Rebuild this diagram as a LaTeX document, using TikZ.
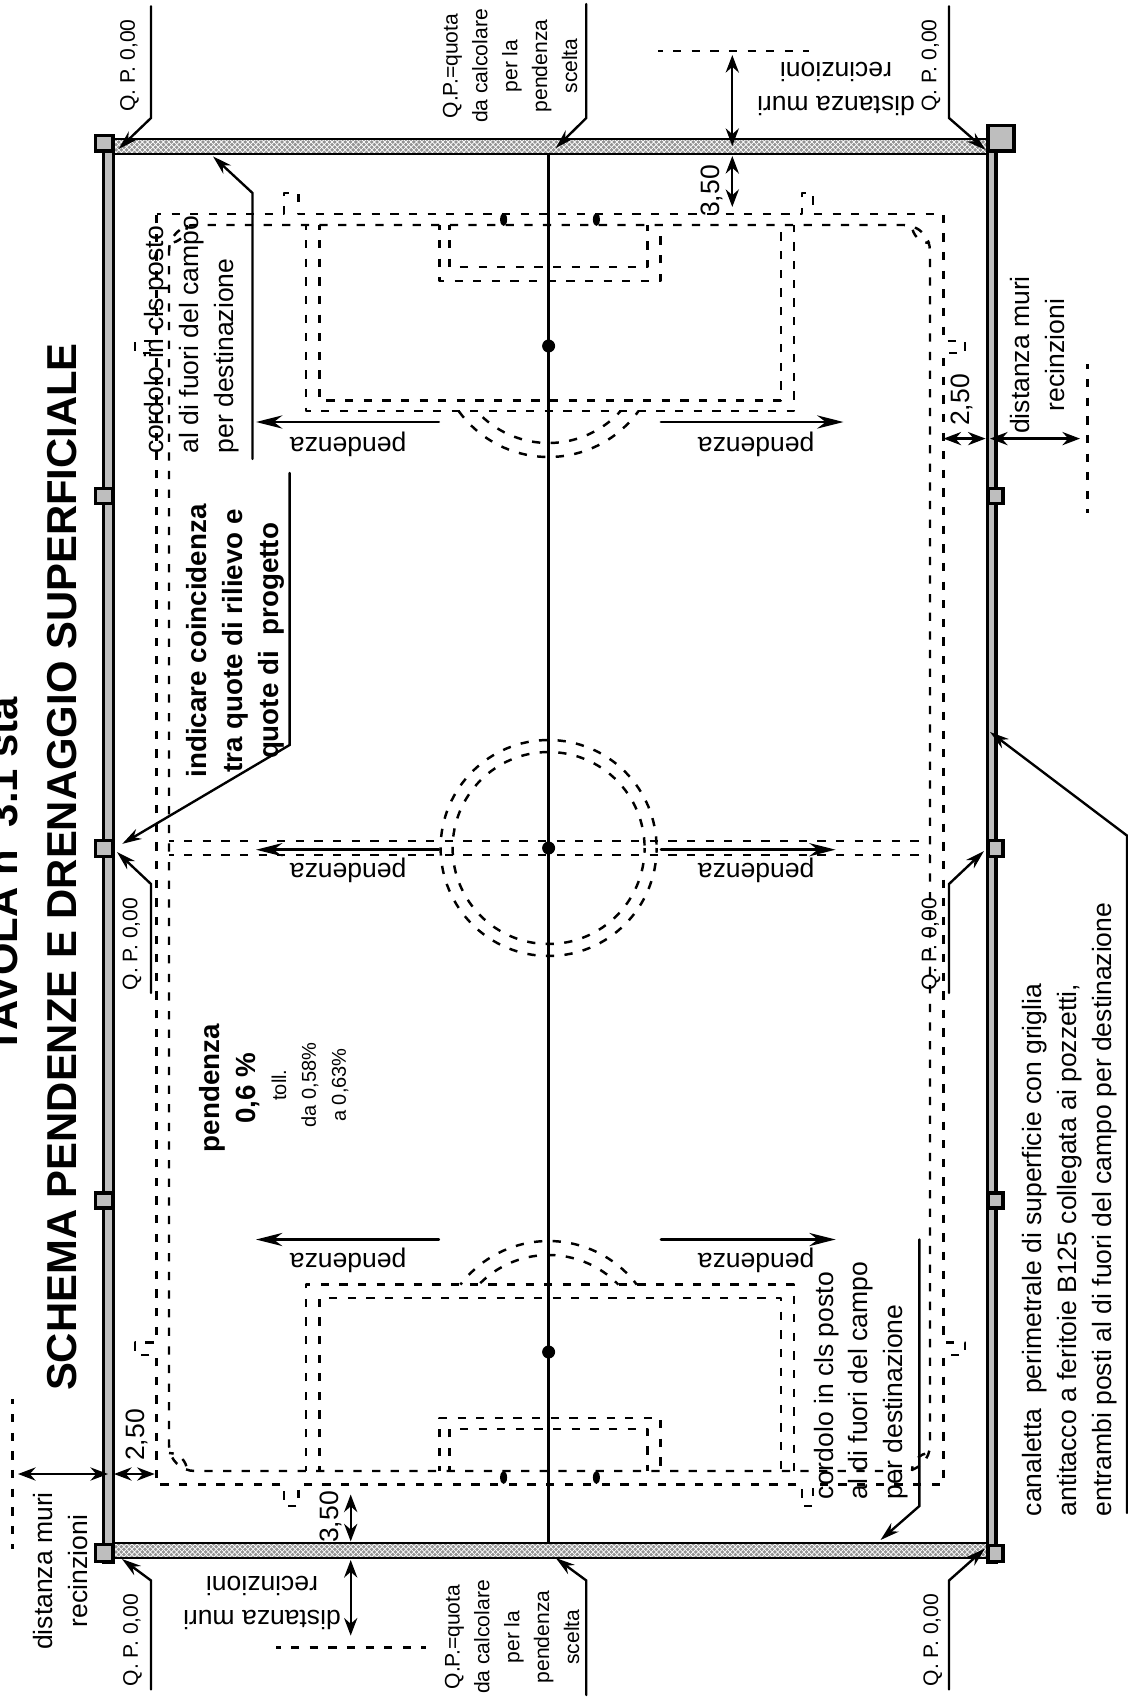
\documentclass[tikz,border=0pt]{standalone}
\usepackage{fontspec}
\setmainfont{Liberation Sans}
\usetikzlibrary{arrows.meta, patterns}
\definecolor{wallgray}{HTML}{BEBEBE}
\tikzset{
  wall/.style={draw, line width=1.9pt, line join=miter, fill=wallgray},
  field/.style={line width=1.4pt, dash pattern=on 4.7pt off 5.9pt, dash phase=2pt, line cap=butt},
  leader/.style={line width=1.35pt, line join=miter, -{Stealth[length=11pt, width=6.5pt]}},
  slope/.style={line width=1.6pt, -{Stealth[length=15pt, width=7.5pt]}},
  dim/.style={line width=1.35pt, {Stealth[length=10pt, width=7.5pt]}-{Stealth[length=10pt, width=7.5pt]}},
  lab/.style={inner sep=0pt, font=\fontsize{15.1}{19.8}\selectfont},
  boldlab/.style={inner sep=0pt, font=\fontsize{15.8}{20.4}\selectfont\bfseries},
  quota/.style={inner sep=0pt, font=\fontsize{12}{17}\selectfont},
  tolerance/.style={inner sep=0pt, font=\fontsize{11.4}{17}\selectfont},
  bigtitle/.style={inner sep=0pt, anchor=base, rotate=90, font=\fontsize{23.8}{28}\selectfont\bfseries},
}
\begin{document}
\begin{tikzpicture}[x=0.02cm, y=-0.02cm, line cap=round, line join=round]
\useasboundingbox (0,0) rectangle (1128,1697);

% walls and grated channels
\foreach \ytop/\ybot in {139/154, 1543/1558} {
  \fill [wallgray!78!black] (112,\ytop) rectangle (987,\ybot);
  \fill [pattern=crosshatch, pattern color=white] (112,\ytop) rectangle (987,\ybot);
  \draw [line width=1.6pt] (112,\ytop) -- (987,\ytop) (112,\ybot) -- (987,\ybot);
}
\draw [wall] (103.6,136) rectangle (113.4,1562);
\draw [wall] (987.2,136) rectangle (996,1562);
\foreach \ya/\yb in {135.6/151, 488.5/503.5, 840.5/856.5, 1193/1208, 1544.5/1561.5} {
  \draw [wall] (95.6,\ya) rectangle (112.4,\yb);
}
\foreach \ya/\yb in {488.5/503.5, 840.5/856.5, 1193/1208, 1545.5/1561.5} {
  \draw [wall] (988,\ya) rectangle (1003,\yb);
}
\draw [wall] (988,125.5) rectangle (1014,151);

% pitch
\draw [field] (156.5,214) -- (284,214) -- (284,193) -- (298.6,193) -- (298.6,214)
  -- (802,214) -- (802,193) -- (813,193) -- (813,214) -- (943.5,214)
  -- (943.5,341) -- (965,341) -- (965,353) -- (943.5,353) -- (943.5,1342.5)
  -- (965,1342.5) -- (965,1355) -- (943.5,1355) -- (943.5,1484.6)
  -- (813,1484.6) -- (813,1506) -- (802,1506) -- (802,1484.6)
  -- (298.6,1484.6) -- (298.6,1506) -- (284,1506) -- (284,1484.6)
  -- (156.5,1484.6) -- (156.5,1355) -- (135,1355) -- (135,1342.5) -- (156.5,1342.5)
  -- (156.5,353) -- (135,353) -- (135,341) -- (156.5,341) -- cycle;
\draw [field, rounded corners=0.52cm] (169,225) rectangle (930,1471);
\foreach \cx/\cy/\a in {169/225/0, 930/225/90, 930/1471/180, 169/1471/270}
  \draw [field] (\cx,\cy) ++(\a:18) arc [start angle=\a, end angle=\a+90, radius=18];

\draw [field] (169,841) -- (930,841) (169,855) -- (930,855);
\draw [field] (548.6,848) circle [radius=108];
\draw [field] (548.6,848) circle [radius=96];

\foreach \ya/\yb/\yc/\yd/\ye/\yf in {225/411/400.7/281/267/346, 1471/1284.6/1298/1418/1429/1352} {
  \draw [field] (305.8,\ya) -- (305.8,\yb) -- (794,\yb) -- (794,\ya);
  \draw [field] (319.4,\ya) -- (319.4,\yc) -- (781,\yc) -- (781,\ya);
  \draw [field] (439.6,\ya) -- (439.6,\yd) -- (660.4,\yd) -- (660.4,\ya);
  \draw [field] (449.6,\ya) -- (449.6,\ye) -- (647.5,\ye) -- (647.5,\ya);
  \fill (548.6,\yf) circle [radius=6.5];
}
\draw [field] (548.6,346) ++(35.8:111) arc [start angle=35.8, end angle=144.2, radius=111];
\draw [field] (548.6,346) ++(42:97) arc [start angle=42, end angle=138, radius=97];
\draw [field] (548.6,1352) ++(-37.4:111) arc [start angle=-37.4, end angle=-142.6, radius=111];
\draw [field] (548.6,1352) ++(-44:97) arc [start angle=-44, end angle=-136, radius=97];
\foreach \x/\y in {503.6/219.5, 596.4/219.5, 503.6/1477.5, 596.4/1477.5}
  \fill (\x,\y) ellipse [x radius=3.5, y radius=6.5];
\fill (548.6,848) circle [radius=6.5];
\draw [line width=1.3pt] (548.6,154) -- (548.6,1543);

% slope arrows
\foreach \ya/\yl/\xr/\i in {422/444.6/843.5/a, 849.7/870.8/835.6/b, 1239.5/1260/835.6/c} {
  \draw [slope] (438.8,\ya) -- (256,\ya);
  \draw [slope] (661,\ya) -- (\xr,\ya);
  \node (pendl\i) [lab, rotate=180] at (348,\yl) {pendenza};
  \node (pendr\i) [lab, rotate=180] at (756,\yl) {pendenza};
}

% level leaders
\draw [leader] (151,6.4) -- (151,118) -- (118.7,149);
\draw [leader] (586.3,4) -- (586.3,118) -- (555.8,148);
\draw [leader] (949,6.4) -- (949,118) -- (985.6,150);
\draw [leader] (151,993) -- (151,884) -- (117,852);
\draw [leader] (949,993) -- (949,884) -- (984,851);
\draw [leader] (151,1689.5) -- (151,1580.5) -- (122,1559);
\draw [leader] (586.3,1695) -- (586.3,1580.5) -- (555.8,1558);
\draw [leader] (949,1689.5) -- (949,1580.5) -- (985,1548.5);
\foreach \x/\y/\i in {129.5/65.5/a, 931/65.5/b, 132/944/c, 931/944/d, 132.4/1640/e, 932.7/1640/f}
  \node (qp\i) [quota, rotate=90] at (\x,\y) {Q. P. 0,00};
\node (qptop) [quota, rotate=90, align=center] at (510,66) {Q.P.=quota\\da calcolare\\per la\\pendenza\\scelta};
\node (qpbot) [quota, rotate=90, align=center] at (512,1637) {Q.P.=quota\\da calcolare\\per la\\pendenza\\scelta};

% note leaders
\draw [leader] (252.5,459) -- (252.5,193) -- (213,156.4);
\draw [leader] (919.4,1239.5) -- (919.4,1506) -- (880.5,1540);
\draw [leader] (289.6,473) -- (289.6,745) -- (122.3,843.8);
\draw [leader] (1127,1513) -- (1127,835.6) -- (990,732);
\node (notea) [lab, rotate=90, align=left, anchor=west] at (191.8,453.6)
  {cordolo in cls posto\\al di fuori del campo\\per destinazione};
\node (noteb) [lab, rotate=90, align=left, anchor=west] at (861,1499.5)
  {cordolo in cls posto\\al di fuori del campo\\per destinazione};
\node (coincid) [boldlab, rotate=90, align=center] at (235.5,641)
  {indicare coincidenza\\tra quote di rilievo e\\quote di\ \ progetto};
\node (channel) [lab, rotate=90, align=left, anchor=west] at (1069.4,1516.5)
  {canaletta\ \ perimetrale di superficie con griglia\\antitacco a feritoie B125 collegata ai pozzetti,\\entrambi posti al di fuori del campo per destinazione};

% slope value
\node (pvalue) [boldlab, rotate=90, align=center] at (230,1088) {pendenza\\0,6 \%};
\node (ptoll) [tolerance, rotate=90, align=center] at (310,1085) {toll.\\da 0,58\%\\a 0,63\%};

% dimensions
\draw [field] (658,51) -- (808.6,51);
\draw [dim] (732.3,55) -- (732.3,146);
\draw [dim] (732.3,156) -- (732.3,207);
\node (dimtopa) [lab, rotate=90] at (711.5,191) {3,50};
\node (dimtopb) [lab, rotate=180, align=center] at (836,89) {distanza muri\\recinzioni};

\draw [field] (276,1647.3) -- (426,1647.3);
\draw [dim] (350.7,1494.5) -- (350.7,1541.4);
\draw [dim] (350.7,1560) -- (350.7,1635.6);
\node (dimbota) [lab, rotate=90] at (331,1517) {3,50};
\node (dimbotb) [lab, rotate=180, align=center] at (262,1603) {distanza muri\\recinzioni};

\draw [field] (12.6,1399) -- (12.6,1548.5);
\draw [dim] (18,1474) -- (108,1474);
\draw [dim] (114,1474) -- (154.7,1474);
\node (dimlefta) [lab, rotate=90] at (136.7,1435) {2,50};
\node (dimleftb) [lab, rotate=90, align=center] at (60.7,1571) {distanza muri\\recinzioni};

\draw [field] (1087.4,364) -- (1087.4,512.5);
\draw [dim] (943.5,438.6) -- (985.6,438.6);
\draw [dim] (990,438.6) -- (1080,438.6);
\node (dimrighta) [lab, rotate=90] at (961.5,400) {2,50};
\node (dimrightb) [lab, rotate=90, align=center] at (1037.5,355) {distanza muri\\recinzioni};

% titles
\node (tavola) [bigtitle] at (17,875) {TAVOLA n\ \ 3.1 sta};
\node (schema) [bigtitle] at (76.6,867) {SCHEMA PENDENZE E DRENAGGIO SUPERFICIALE};
\end{tikzpicture}
\end{document}
